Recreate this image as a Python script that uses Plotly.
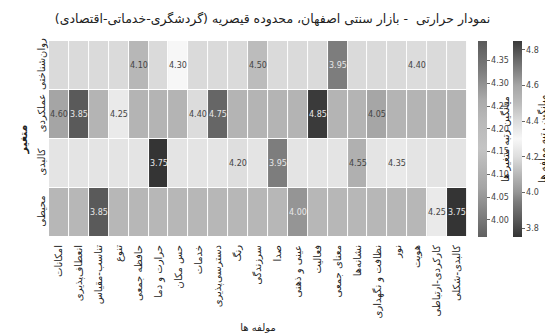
import numpy as np
import plotly.graph_objects as go

# Categories
components = [
    "امکانات", "انعطاف‌پذیری", "تناسب-مقیاس", "تنوع", "حافظه جمعی",
    "حرارت و دما", "حس مکان", "خدمات", "دسترسی‌پذیری", "رنگ", "سرزندگی",
    "صدا", "عینی و ذهنی", "فعالیت", "معنای جمعی", "نشانه‌ها",
    "نظافت و نگهداری", "نور", "هویت", "کارکردی-ارتباطی", "کالبدی-شکلی",
]
variables = ["روان‌شناختی", "عملکردی", "کالبدی", "محیطی"]

# Scores per variable (None = component not assessed under that variable)
psychological = [None, None, None, None, 4.10, None, 4.30, None, None, None, 4.50,
                 None, None, None, 3.95, None, None, None, 4.40, None, None]
functional = [4.60, 3.85, None, 4.25, None, None, None, 4.40, 4.75, None, None,
              None, None, 4.85, None, None, 4.05, None, None, None, None]
physical = [None, None, None, None, None, 3.75, None, None, None, 4.20, None,
            3.95, None, None, None, 4.55, None, 4.35, None, None, None]
environmental = [None, None, 3.85, None, None, None, None, None, None, None, None,
                 None, 4.00, None, None, None, None, None, None, 4.25, 3.75]

rows = [psychological, functional, physical, environmental]
z = np.array([[np.nan if v is None else v for v in r] for r in rows], dtype=float)

# Each variable's mean score spread across its row
row_means = np.nanmean(z, axis=1)
z_mean = np.repeat(row_means[:, None], len(components), axis=1)

font = "DejaVu Sans"

# Diverging grey: dark at both ends, near-white in the middle
cs_values = [
    [0.00, "#343434"], [0.09, "#5a5a5a"], [0.18, "#7c7c7c"], [0.23, "#969696"],
    [0.32, "#b8b8b8"], [0.41, "#dedede"], [0.50, "#f7f7f7"], [0.59, "#dcdcdc"],
    [0.68, "#bcbcbc"], [0.77, "#a6a6a6"], [0.91, "#666666"], [1.00, "#3a3a3a"],
]
cs_means = [
    [0.00, "#606060"], [0.25, "#a4a4a4"], [0.45, "#c4c4c4"], [0.60, "#b8b8b8"],
    [0.70, "#aaaaaa"], [0.85, "#7c7c7c"], [1.00, "#5a5a5a"],
]

fig = go.Figure()

fig.add_trace(go.Heatmap(
    z=z_mean, x=components, y=variables,
    colorscale=cs_means, zmin=row_means.min(), zmax=row_means.max(),
    opacity=0.45, xgap=1, ygap=1, hoverinfo="skip",
    colorbar=dict(
        x=1.024, xanchor="left", y=0.5, yanchor="middle", len=1, ypad=0, xpad=0,
        thickness=9, outlinewidth=0,
        tickvals=[4.00, 4.05, 4.10, 4.15, 4.20, 4.25, 4.30, 4.35],
        tickformat=".2f", ticks="outside", ticklen=3, tickcolor="#666",
        tickfont=dict(family=font, size=8, color="#444"),
    ),
))

fig.add_trace(go.Heatmap(
    z=z, x=components, y=variables,
    colorscale=cs_values, zmin=3.75, zmax=4.85,
    xgap=1, ygap=1,
    colorbar=dict(
        x=1.107, xanchor="left", y=0.5, yanchor="middle", len=1, ypad=0, xpad=0,
        thickness=9, outlinewidth=0,
        tickvals=[3.8, 4.0, 4.2, 4.4, 4.6, 4.8],
        tickformat=".1f", ticks="outside", ticklen=3, tickcolor="#666",
        tickfont=dict(family=font, size=8, color="#444"),
    ),
))

# Value labels on the scored cells
for i, r in enumerate(rows):
    for j, v in enumerate(r):
        if v is None:
            continue
        t = (v - 3.75) / 1.10
        light_text = t < 0.25 or t > 0.85
        fig.add_annotation(
            x=components[j], y=variables[i], text=f"{v:.2f}", showarrow=False,
            font=dict(family=font, size=8, color="#e8e8e8" if light_text else "#444"),
        )

# Colour bar labels
fig.add_annotation(
    xref="paper", yref="paper", x=1.088, y=0.5, textangle=-90,
    xanchor="center", yanchor="middle",
    text="میانگین رتبه متغیر ها", showarrow=False,
    font=dict(family=font, size=10, color="#111"),
)
fig.add_annotation(
    xref="paper", yref="paper", x=1.176, y=0.5, textangle=-90,
    xanchor="center", yanchor="middle",
    text="میانگین رتبه مولفه ها", showarrow=False,
    font=dict(family=font, size=10, color="#111"),
)

fig.update_layout(
    width=545, height=334,
    margin=dict(l=48, r=77, t=41, b=97, autoexpand=False),
    paper_bgcolor="white", plot_bgcolor="white",
    title=dict(
        text="نمودار حرارتی  - بازار سنتی اصفهان، محدوده قیصریه (گردشگری-خدماتی-اقتصادی)",
        x=0.5, xanchor="center", y=0.945, yanchor="middle",
        font=dict(family=font, size=12.5, color="#222"),
    ),
    font=dict(family=font),
)
fig.update_xaxes(
    tickangle=-90, showgrid=False, zeroline=False, showline=False, ticks="",
    ticklabelstandoff=5,
    tickfont=dict(family=font, size=10, color="#222"),
    title=dict(text="مولفه ها", font=dict(family=font, size=10, color="#222"), standoff=6),
)
fig.update_yaxes(
    autorange="reversed", tickangle=-90, showgrid=False, zeroline=False,
    showline=False, ticks="",
    tickfont=dict(family=font, size=10, color="#222"),
    title=dict(text="<b>متغیر</b>", font=dict(family=font, size=11, color="#222"), standoff=6),
)

fig.write_html("out.html")
